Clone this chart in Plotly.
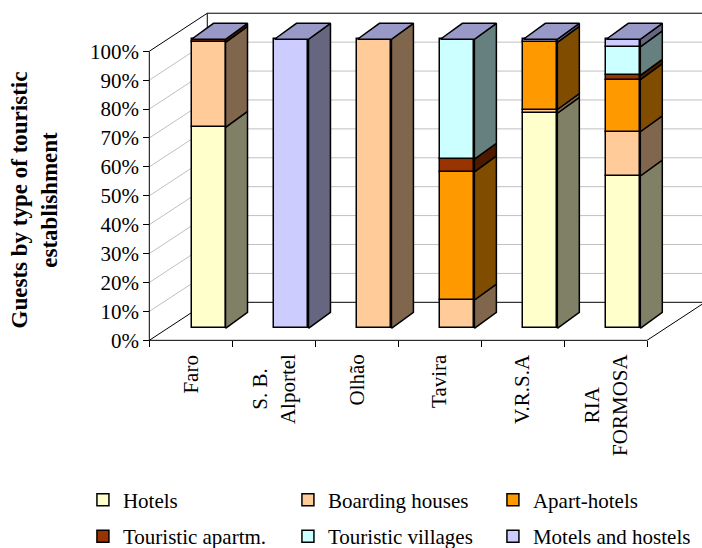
import plotly.graph_objects as go

# Share of guests (%) by type of touristic establishment, per area
categories = ["Faro", "S. B.<br>Alportel", "Olhão", "Tavira", "V.R.S.A", "RIA<br>FORMOSA"]
series_names = ["Hotels", "Boarding houses", "Apart-hotels",
                "Touristic apartm.", "Touristic villages", "Motels and hostels"]
hotels = [69.5, 0, 0, 0, 74.4, 52.7]
boarding_houses = [29.4, 0, 100, 9.8, 1.3, 15.3]
apart_hotels = [0, 0, 0, 44.3, 23.2, 18.0]
touristic_apartm = [1.1, 0, 0, 4.4, 0, 1.5]
touristic_villages = [0, 0, 0, 41.5, 0, 9.9]
motels_hostels = [0, 100, 0, 0, 1.1, 2.6]
y_tick_values = [0, 10, 20, 30, 40, 50, 60, 70, 80, 90, 100]
y_tick_labels = [f"{v}%" for v in y_tick_values]

series_values = [hotels, boarding_houses, apart_hotels,
                 touristic_apartm, touristic_villages, motels_hostels]
front_colors = ["#FFFFCC", "#FFCC99", "#FF9900", "#993300", "#CCFFFF", "#CCCCFF"]
side_colors = ["#808066", "#80664D", "#804D00", "#4D1A00", "#668080", "#666680"]
top_color = "#9999C8"
grid_color = "#C0C0C0"
FONT = "'Liberation Serif', 'Times New Roman', serif"

# oblique projection (x in category units, y in percent units)
WALL_DX, WALL_DY = 0.699, 13.15      # depth of the side wall / floor
BAR_SHIFT, BAR_LIFT = 0.214, 4.15    # front face of the bars sits behind the axis plane
BAR_W = 0.41
BAR_DX, BAR_DY = 0.265, 5.53         # depth of each bar
n = len(categories)

fig = go.Figure()

# ---- walls, floor and gridlines -------------------------------------------
shapes = []


def seg(x0, y0, x1, y1, color="black", width=1):
    shapes.append(dict(type="line", xref="x", yref="y", x0=x0, y0=y0, x1=x1, y1=y1,
                       line=dict(color=color, width=width), layer="below"))


for v in y_tick_values[1:-1]:
    seg(0, v, WALL_DX, v + WALL_DY, grid_color)                      # side wall
    seg(WALL_DX, v + WALL_DY, n + WALL_DX, v + WALL_DY, grid_color)  # back wall
seg(0, 100, WALL_DX, 100 + WALL_DY)
seg(WALL_DX, 100 + WALL_DY, n + WALL_DX, 100 + WALL_DY)
seg(WALL_DX, WALL_DY, WALL_DX, 100 + WALL_DY)
seg(0, 0, WALL_DX, WALL_DY)
seg(WALL_DX, WALL_DY, n + WALL_DX, WALL_DY)
seg(n, 0, n + WALL_DX, WALL_DY)
seg(0, 0, n, 0)
seg(0, 0, 0, 100)

# ---- bars ------------------------------------------------------------------
centers = [i + 0.5 + BAR_SHIFT for i in range(n)]
bases = [0.0] * n
side_polys = []
for k, (name, vals) in enumerate(zip(series_names, series_values)):
    xs, ys, bs = [], [], []
    sx, sy = [], []
    for i, v in enumerate(vals):
        if v <= 0:
            continue
        b0 = bases[i]
        b1 = b0 + v
        xs.append(centers[i])
        ys.append(v)
        bs.append(b0 + BAR_LIFT)
        xr = centers[i] + BAR_W / 2
        sx += [xr, xr + BAR_DX, xr + BAR_DX, xr, xr, None]
        sy += [b0 + BAR_LIFT, b0 + BAR_LIFT + BAR_DY, b1 + BAR_LIFT + BAR_DY,
               b1 + BAR_LIFT, b0 + BAR_LIFT, None]
        bases[i] = b1
    fig.add_trace(go.Bar(
        x=xs, y=ys, base=bs, width=BAR_W, name=name,
        marker=dict(color=front_colors[k], line=dict(color="black", width=1.5)),
        legend="legend" if k < 3 else "legend2",
    ))
    side_polys.append((sx, sy, side_colors[k]))

for sx, sy, col in side_polys:
    fig.add_trace(go.Scatter(
        x=sx, y=sy, mode="lines", fill="toself", fillcolor=col,
        line=dict(color="black", width=1.5), showlegend=False, hoverinfo="skip"))

tx, ty = [], []
for i in range(n):
    top = bases[i] + BAR_LIFT
    xl = centers[i] - BAR_W / 2
    xr = centers[i] + BAR_W / 2
    tx += [xl, xr, xr + BAR_DX, xl + BAR_DX, xl, None]
    ty += [top, top, top + BAR_DY, top + BAR_DY, top, None]
fig.add_trace(go.Scatter(
    x=tx, y=ty, mode="lines", fill="toself", fillcolor=top_color,
    line=dict(color="black", width=1.5), showlegend=False, hoverinfo="skip"))

# ---- labels ----------------------------------------------------------------
annotations = []
for i, c in enumerate(categories):
    annotations.append(dict(
        x=i + 0.5, y=0, xref="x", yref="y", yshift=-12, text=c, showarrow=False,
        textangle=-90, xanchor="center", yanchor="top", align="center",
        font=dict(family=FONT, size=21, color="black")))
annotations.append(dict(
    x=-0.1907, y=0.432, xref="paper", yref="paper",
    text="<b>Guests by type of touristic<br>establishment</b>", showarrow=False,
    textangle=-90, xanchor="center", yanchor="middle", align="center",
    font=dict(family=FONT, size=23, color="black")))

X_MIN, X_MAX = -0.1, 6.6627
Y_MIN, Y_MAX = -3, 116

legend_common = dict(
    orientation="h", xref="paper", yref="paper", xanchor="left", yanchor="middle",
    entrywidth=160, entrywidthmode="pixels", itemwidth=30,
    font=dict(family=FONT, size=21, color="black"), bgcolor="rgba(0,0,0,0)",
    itemclick=False, itemdoubleclick=False,
)

fig.update_layout(
    width=702, height=548,
    margin=dict(l=141, r=0, t=5, b=199, autoexpand=False),
    paper_bgcolor="white", plot_bgcolor="white",
    barmode="overlay", bargap=0, hovermode=False,
    shapes=shapes, annotations=annotations,
    font=dict(family=FONT, size=21, color="black"),
    xaxis=dict(range=[X_MIN, X_MAX], tickvals=list(range(n + 1)), ticks="outside",
               ticklen=6, tickcolor="black", showticklabels=False, showgrid=False,
               zeroline=False, showline=False, anchor="free",
               position=(0 - Y_MIN) / (Y_MAX - Y_MIN)),
    yaxis=dict(range=[Y_MIN, Y_MAX], tickvals=y_tick_values, ticktext=y_tick_labels,
               ticks="outside", ticklen=6, tickcolor="black", showgrid=False,
               zeroline=False, showline=False, anchor="free",
               position=(0 - X_MIN) / (X_MAX - X_MIN),
               tickfont=dict(family=FONT, size=21, color="black")),
    legend=dict(x=-0.1035, y=-0.439, **legend_common),
    legend2=dict(x=-0.1035, y=-0.545, **legend_common),
)

fig.write_html("out.html")
